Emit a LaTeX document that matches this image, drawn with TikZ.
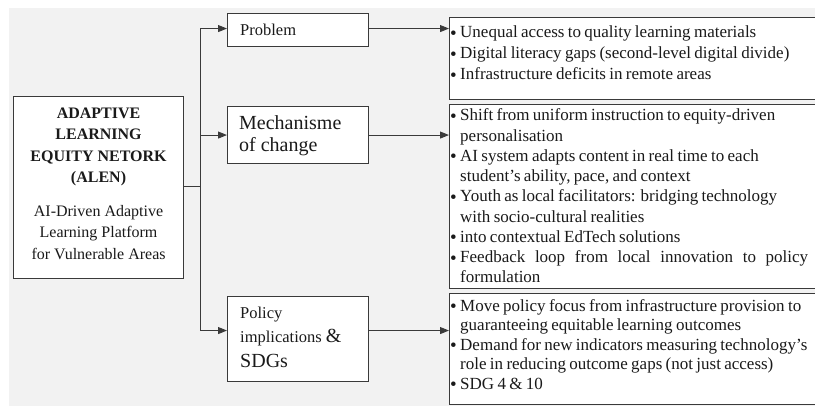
\documentclass[tikz,border=0pt]{standalone}
\usepackage{fontspec}
\setmainfont{Liberation Serif}
\usetikzlibrary{arrows.meta}
\definecolor{bg}{HTML}{F2F2F2}
\definecolor{ln}{HTML}{3A3A3A}
\definecolor{tx}{HTML}{1A1A1A}
\newcommand\mybullet{\raisebox{-1.5pt}{\fontsize{19}{19}\selectfont\textbullet}}
\newcommand\bitem[1]{\par\noindent\hangindent=10pt\hangafter=1\makebox[10pt][l]{\mybullet}#1}
\begin{document}
\begin{tikzpicture}[x=1pt,y=-1pt,
  box/.style={draw=ln,line width=1.1pt,fill=white,inner sep=0pt,anchor=north west},
  conn/.style={draw=ln,line width=1pt},
  arr/.style={conn,-{Triangle[length=9pt,width=7pt]}},
  txt/.style={inner sep=0pt,text=tx,align=left},
  ltxt/.style={inner sep=0pt,text=tx,anchor=north west,text width=358pt}]
\clip (0,0) rectangle (815,406);
\fill[bg] (9,8) rectangle (815,406);
% left box
\node[box,minimum width=170pt,minimum height=182pt] (L) at (13,96) {};
\node[inner sep=0pt,text=tx,align=center,font=\fontsize{16}{21.5}\selectfont] (Lt)
  at ([yshift=4pt]L.center)
  {\textbf{ADAPTIVE}\\ \textbf{LEARNING}\\ \textbf{EQUITY NETORK}\\ \textbf{(ALEN)}\\[12pt]
   AI-Driven Adaptive\\ Learning Platform\\ for Vulnerable Areas};
% middle boxes
\node[box,minimum width=141pt,minimum height=33pt] (P) at (227,13) {};
\node[txt,anchor=west,font=\fontsize{16.5}{20}\selectfont] (Pt) at (240,29.5) {Problem};
\node[box,minimum width=141pt,minimum height=57pt] (M) at (227,106) {};
\node[txt,anchor=west,font=\fontsize{20}{22}\selectfont] (Mt) at (239,136) {Mechanisme\\of change};
\node[box,minimum width=141pt,minimum height=85pt] (Q) at (227,296) {};
\node[txt,anchor=west,font=\fontsize{16.5}{24.5}\selectfont] (Qt) at (240,337)
  {Policy\\ implications {\fontsize{20}{24.5}\selectfont\&}\\ {\fontsize{20}{24.5}\selectfont SDGs}};
% right boxes
\node[box,minimum width=380pt,minimum height=82pt] (R1) at (449,17) {};
\node[box,minimum width=380pt,minimum height=184pt] (R2) at (449,104) {};
\node[box,minimum width=380pt,minimum height=111pt] (R3) at (449,293) {};
\node[ltxt] (T1) at (450,16.5) {\fontsize{17}{21}\selectfont\raggedright
  \bitem{Unequal access to quality learning materials}
  \bitem{Digital literacy gaps (second-level digital divide)}
  \bitem{Infrastructure deficits in remote areas}\par};
\node[ltxt] (T2) at (450,100.5) {\fontsize{17}{20.25}\selectfont\raggedright
  \bitem{Shift from uniform instruction to equity-driven\newline personalisation}
  \bitem{AI system adapts content in real time to each\newline student’s ability, pace, and context}
  \bitem{Youth as local facilitators: bridging technology\newline with socio-cultural realities}
  \bitem{into contextual EdTech solutions}
  \bitem{\hbox to 348pt{Feedback\hfill loop\hfill from\hfill local\hfill innovation\hfill to\hfill policy}\newline formulation}\par};
\node[ltxt] (T3) at (450,291.5) {\fontsize{17}{19.5}\selectfont\raggedright
  \bitem{Move policy focus from infrastructure provision to\newline guaranteeing equitable learning outcomes}
  \bitem{Demand for new indicators measuring technology’s\newline role in reducing outcome gaps (not just access)}
  \bitem{SDG 4 \& 10}\par};
% connectors
\coordinate (J) at (200,187);
\draw[conn] (L.east |- J) -- (J);
\draw[arr] (J) |- ([yshift=1.5pt]P.west);
\draw[arr] (J) |- (M.west);
\draw[arr] (J) |- ([yshift=8.5pt]Q.west);
\draw[arr] ([yshift=1.5pt]P.east) -- ([yshift=1.5pt]P.east -| R1.west);
\draw[arr] (M.east) -- (M.east -| R2.west);
\draw[arr] ([yshift=8.5pt]Q.east) -- ([yshift=8.5pt]Q.east -| R3.west);
\end{tikzpicture}
\end{document}
